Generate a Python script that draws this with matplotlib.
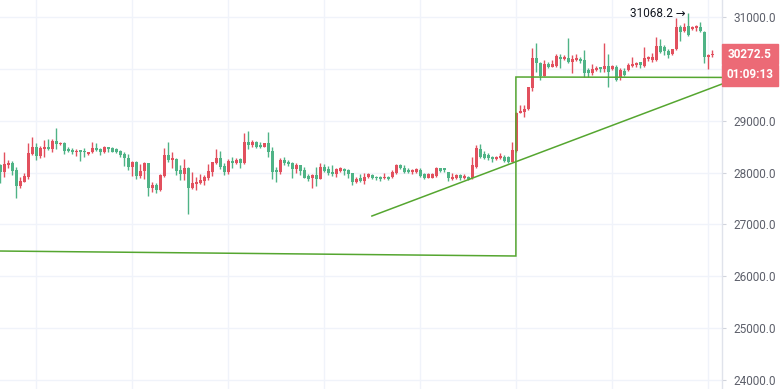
import matplotlib
matplotlib.use("Agg")
import matplotlib.pyplot as plt
from matplotlib.patches import Rectangle
import numpy as np

plt.rcParams['font.family'] = ['Roboto', 'DejaVu Sans']

# ---- OHLC data (index 0..178) ----
open_ = [28146, 28018, 28146, 28191, 28050, 27741, 27825, 27909, 28359, 28487,
         28326, 28455, 28494, 28455, 28616, 28545, 28564, 28461, 28436, 28391,
         28436, 28417, 28359, 28391, 28481, 28455, 28391, 28487, 28481, 28449,
         28417, 28359, 28288, 28114, 28211, 27941, 28031, 28191, 27709, 27761,
         27664, 27941, 28339, 28249, 28262, 28050, 27966, 28095, 27696, 27780,
         27793, 27838, 27889, 28018, 28191, 28275, 28127, 28018, 28230, 28191,
         28256, 28179, 28584, 28532, 28584, 28532, 28500, 28564, 28417, 28050,
         28018, 28243, 28211, 28179, 28063, 28146, 28050, 27935, 27890, 27954,
         27877, 28102, 28063, 28018, 27973, 28037, 28069, 28050, 27986, 27812,
         27890, 27845, 27909, 27954, 27922, 27922, 27890, 27922, 27909, 27986,
         28147, 28082, 28050, 28005, 28018, 28050, 27966, 27902, 27902, 27941,
         28095, 28082, 28018, 27870, 27889, 27954, 27889, 27921, 27889, 28114,
         28455, 28358, 28339, 28307, 28262, 28275, 28307, 28306, 28209, 28421,
         29154, 29174, 29219, 29624, 30202, 30119, 29868, 30093, 30042, 30061,
         30235, 30190, 30202, 30125, 30170, 30190, 30170, 29977, 29926, 29977,
         30029, 29997, 30054, 29996, 30042, 29816, 29964, 29977, 30054, 30074,
         30125, 30054, 30183, 30170, 30170, 30447, 30427, 30350, 30279, 30376,
         30813, 30736, 30826, 30768, 30781, 30800, 30717, 30234, 30266]
high = [28159, 28391, 28243, 28230, 28114, 27909, 27999, 28564, 28693, 28564,
        28519, 28629, 28648, 28642, 28854, 28597, 28584, 28500, 28481, 28455,
        28436, 28468, 28404, 28597, 28564, 28481, 28519, 28500, 28500, 28468,
        28436, 28391, 28352, 28224, 28224, 28159, 28198, 28191, 27825, 27793,
        27973, 28481, 28597, 28404, 28275, 28146, 28262, 28114, 28018, 27909,
        27973, 27954, 28166, 28211, 28455, 28417, 28179, 28256, 28294, 28275,
        28288, 28757, 28802, 28629, 28609, 28584, 28577, 28777, 28500, 28114,
        28275, 28307, 28243, 28198, 28179, 28146, 28114, 27973, 27967, 28102,
        28192, 28166, 28127, 28147, 28082, 28114, 28082, 28069, 27999, 27922,
        27973, 27999, 27986, 27973, 27941, 27941, 27986, 27941, 28050, 28166,
        28166, 28147, 28082, 28063, 28082, 28082, 27986, 27986, 27986, 28114,
        28095, 28095, 28018, 27986, 27966, 27973, 27966, 27941, 28307, 28532,
        28545, 28416, 28371, 28326, 28320, 28371, 28339, 28319, 28595, 29174,
        29302, 29302, 29656, 30395, 30492, 30138, 30170, 30138, 30170, 30286,
        30286, 30267, 30588, 30267, 30286, 30222, 30363, 30010, 30087, 30055,
        30042, 30492, 30279, 30074, 30074, 30009, 30009, 30106, 30234, 30138,
        30138, 30414, 30247, 30311, 30607, 30569, 30459, 30376, 30382, 30974,
        30845, 30877, 31068.2, 30832, 30845, 30897, 30736, 30279, 30363]
low = [27793, 27921, 28095, 27954, 27516, 27696, 27812, 27876, 28339, 28243,
       28275, 28307, 28436, 28404, 28455, 28532, 28352, 28391, 28352, 28326,
       28224, 28307, 28339, 28371, 28417, 28339, 28371, 28404, 28391, 28371,
       28307, 28134, 28050, 27941, 27870, 27889, 27876, 27555, 27632, 27600,
       27651, 27921, 28211, 28082, 27954, 27857, 27857, 27201, 27684, 27664,
       27780, 27761, 27857, 27941, 28166, 28069, 27954, 27973, 28082, 28166,
       28095, 28159, 28449, 28500, 28468, 28468, 28487, 28307, 27870, 27812,
       27966, 28146, 28134, 27889, 27986, 27954, 27889, 27845, 27697, 27748,
       27870, 28018, 27954, 27941, 27909, 28005, 27954, 27890, 27761, 27793,
       27812, 27774, 27890, 27870, 27857, 27845, 27870, 27857, 27890, 27973,
       28063, 27999, 27998, 27966, 27986, 27908, 27870, 27889, 27889, 27921,
       28018, 28018, 27844, 27857, 27870, 27857, 27870, 27857, 27876, 28082,
       28275, 28262, 28243, 28211, 28243, 28262, 28211, 28177, 28196, 28402,
       29142, 29077, 29206, 29579, 29945, 29785, 29862, 30022, 30029, 30042,
       30010, 30170, 30106, 29926, 30157, 30106, 29849, 29849, 29881, 29958,
       29945, 29945, 29656, 29977, 29765, 29784, 29861, 29958, 30029, 30042,
       30009, 30029, 30157, 30138, 30151, 30299, 30267, 30202, 30267, 30363,
       30543, 30717, 30640, 30749, 30736, 30717, 30106, 29990, 30234]
close = [28018, 28159, 28191, 28037, 27748, 27844, 27941, 28384, 28487, 28326,
         28481, 28500, 28455, 28609, 28552, 28577, 28423, 28423, 28391, 28423,
         28404, 28391, 28391, 28468, 28442, 28391, 28487, 28449, 28404, 28404,
         28339, 28275, 28114, 28211, 27941, 28031, 28179, 27709, 27761, 27664,
         27954, 28339, 28243, 28288, 28037, 27973, 28095, 27696, 27793, 27825,
         27857, 27909, 28031, 28198, 28275, 28114, 28018, 28230, 28179, 28243,
         28179, 28584, 28532, 28584, 28500, 28500, 28564, 28404, 28018, 28018,
         28243, 28179, 28166, 28063, 28146, 28037, 27902, 27877, 27954, 27877,
         28102, 28037, 27999, 27973, 28063, 28082, 28037, 27973, 27812, 27877,
         27845, 27922, 27967, 27902, 27890, 27877, 27922, 27877, 28005, 28147,
         28082, 28018, 28005, 28050, 28063, 27941, 27889, 27966, 27966, 28095,
         28031, 28050, 27889, 27921, 27954, 27889, 27941, 27876, 28146, 28468,
         28307, 28275, 28275, 28262, 28307, 28320, 28224, 28209, 28434, 29154,
         29193, 29225, 29643, 30202, 30106, 29868, 30087, 30042, 30087, 30247,
         30190, 30235, 30125, 30190, 30202, 30157, 29913, 29913, 29990, 30022,
         29990, 30061, 29945, 30054, 29784, 29977, 29881, 30074, 30093, 30119,
         30074, 30215, 30221, 30221, 30440, 30331, 30344, 30267, 30376, 30800,
         30717, 30813, 30652, 30813, 30826, 30729, 30234, 30266, 30272.5]

y_ticks = [24000, 25000, 26000, 27000, 28000, 29000, 30000, 31000]
last_price_label = "30272.5"
countdown_label = "01:09:13"
max_label = "31068.2"
max_index = 172

# drawings (bar index, price)
poly_x = [-0.075, 128.9, 128.9, 180.425]
poly_y = [26488, 26392, 29843, 29835]
trend_x = [92.9, 180.425]
trend_y = [27163, 29708]

UP = '#e2505e'
DOWN = '#4fb386'
LINE = '#55a630'

W, H = 783, 389
fig = plt.figure(figsize=(W / 100, H / 100), dpi=100)
ax = fig.add_axes([0, 0, 722 / W, 1])

n = len(close)
idx = np.arange(n)
o = np.array(open_, float); c = np.array(close, float)
hi = np.array(high, float); lo = np.array(low, float)
up = c >= o
cols = np.where(up, UP, DOWN)

ax.vlines(idx, lo, hi, colors=cols, lw=1.0, zorder=3)
body_bottom = np.minimum(o, c)
body_h = np.maximum(np.abs(c - o), 12)
ax.bar(idx, body_h, bottom=body_bottom, width=0.72, color=cols, lw=0, zorder=4)

ax.plot(poly_x, poly_y, color=LINE, lw=1.1, zorder=5, solid_joinstyle='miter')
ax.plot(trend_x, trend_y, color=LINE, lw=1.1, zorder=5)

ax.set_xlim(-0.075, 180.425)
ax.set_ylim(31000 - 372 * 19.28, 31000 + 17 * 19.28)

ax.set_xticks([8.8 + 24 * i for i in range(8)])
ax.set_yticks(y_ticks)
ax.set_yticklabels([f"{v:.1f}" for v in y_ticks])
ax.yaxis.tick_right()
ax.tick_params(axis='x', length=0, labelbottom=False)
ax.tick_params(axis='y', length=3, width=0.8, color='#d1d4dc',
               labelcolor='#5d606b', labelsize=8.5, pad=5)
ax.grid(True, color='#f0f3fa', lw=1.0, zorder=0)
ax.set_axisbelow(True)
for s in ['top', 'left', 'bottom']:
    ax.spines[s].set_visible(False)
ax.spines['right'].set_color('#e0e3eb')
ax.spines['right'].set_linewidth(1.0)

# max label
ax.annotate(max_label + " \u2192", xy=(max_index, high[max_index]),
            xytext=(-3, 0), textcoords='offset pixels', ha='right', va='center',
            fontsize=8.5, color='#131722', zorder=6)

# price label boxes (figure pixel coordinates)
def fy(py):
    return (H - py) / H

BOX = '#ec6a76'
x0 = 722 / W
bw = (778 - 722) / W
fig.patches.append(Rectangle((x0, fy(63.5)), bw, (63.5 - 44.5) / H,
                             transform=fig.transFigure, color=BOX, zorder=10))
fig.patches.append(Rectangle((x0, fy(85.5)), bw, (85.5 - 64.5) / H,
                             transform=fig.transFigure, color=BOX, zorder=10))
fig.text((722 + 778) / 2 / W, fy(54), last_price_label, color='white',
         fontsize=8.5, fontweight='bold', ha='center', va='center', zorder=11)
fig.text((722 + 778) / 2 / W, fy(75), countdown_label, color='white',
         fontsize=8.5, fontweight='bold', ha='center', va='center', zorder=11)

fig.savefig('out.png', dpi=100, facecolor='white')
